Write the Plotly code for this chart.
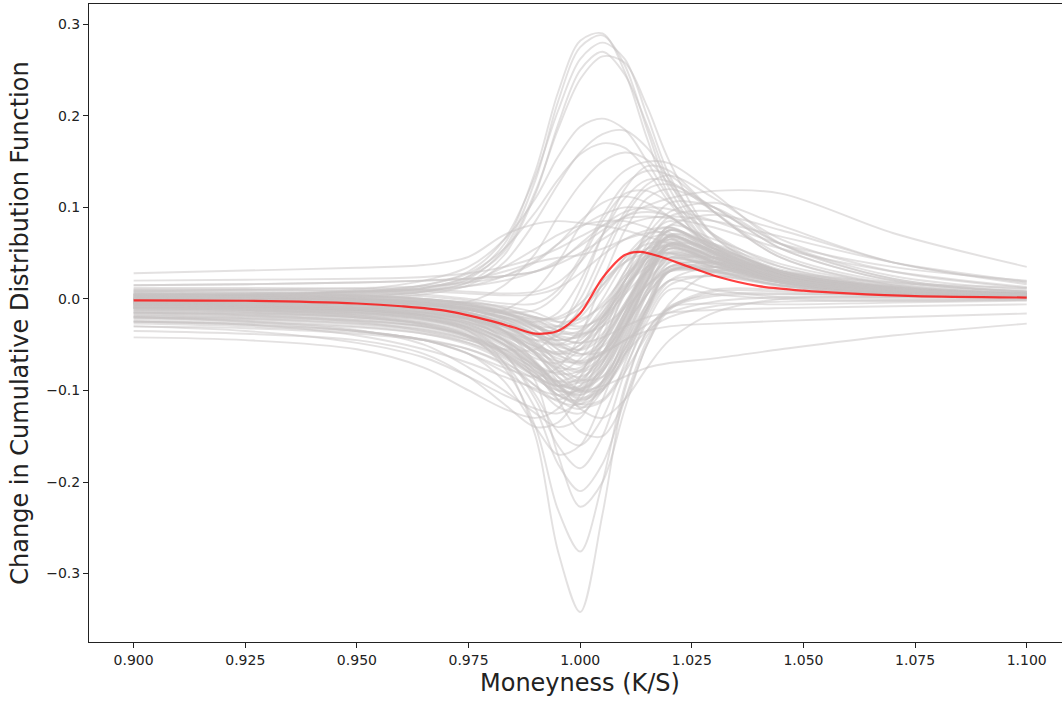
import plotly.graph_objects as go

# Strike grid (moneyness K/S) on which the individual curves are sampled
moneyness = [0.900, 0.925, 0.950, 0.965, 0.975, 0.983, 0.990, 0.995, 1.000,
             1.005, 1.010, 1.015, 1.020, 1.030, 1.045, 1.070, 1.100]

# Tall positive peaks
tall_peaks = [
    [0.000, 0.002, 0.006, 0.012, 0.025, 0.060, 0.140, 0.225, 0.282, 0.290, 0.248, 0.175, 0.112, 0.050, 0.020, 0.008, 0.003],
    [-0.002, 0.001, 0.005, 0.010, 0.022, 0.055, 0.130, 0.215, 0.275, 0.288, 0.255, 0.185, 0.120, 0.055, 0.022, 0.009, 0.004],
    [0.003, 0.005, 0.008, 0.015, 0.030, 0.065, 0.135, 0.205, 0.262, 0.280, 0.262, 0.200, 0.135, 0.060, 0.025, 0.010, 0.005],
    [-0.004, -0.002, 0.002, 0.008, 0.018, 0.048, 0.115, 0.190, 0.250, 0.270, 0.245, 0.190, 0.128, 0.058, 0.024, 0.010, 0.004],
    [0.001, 0.003, 0.007, 0.012, 0.024, 0.052, 0.118, 0.185, 0.240, 0.265, 0.258, 0.210, 0.150, 0.068, 0.028, 0.011, 0.005],
]

# Medium peaks
mid_peaks = [
    [0.000, 0.003, 0.010, 0.020, 0.035, 0.065, 0.110, 0.155, 0.188, 0.197, 0.185, 0.150, 0.110, 0.055, 0.022, 0.009, 0.004],
    [-0.005, -0.003, 0.000, 0.005, 0.015, 0.040, 0.085, 0.125, 0.160, 0.180, 0.184, 0.165, 0.130, 0.068, 0.028, 0.011, 0.005],
    [0.002, 0.004, 0.008, 0.015, 0.028, 0.055, 0.095, 0.130, 0.158, 0.170, 0.165, 0.140, 0.105, 0.052, 0.020, 0.008, 0.003],
    [-0.010, -0.010, -0.010, -0.008, -0.003, 0.015, 0.050, 0.090, 0.125, 0.150, 0.160, 0.152, 0.125, 0.070, 0.030, 0.012, 0.005],
    [-0.008, -0.010, -0.014, -0.018, -0.020, -0.012, 0.010, 0.040, 0.080, 0.115, 0.140, 0.150, 0.148, 0.115, 0.060, 0.022, 0.008],
    [0.005, 0.006, 0.008, 0.010, 0.014, 0.020, 0.030, 0.042, 0.058, 0.075, 0.090, 0.102, 0.110, 0.118, 0.115, 0.072, 0.035],
    [0.028, 0.031, 0.034, 0.037, 0.046, 0.070, 0.082, 0.085, 0.083, 0.080, 0.075, 0.068, 0.060, 0.045, 0.030, 0.018, 0.012],
]

# Peaks around 0.1-0.15
upper_band = [
    [0.010, 0.010, 0.008, 0.005, 0.000, -0.005, -0.005, 0.010, 0.045, 0.090, 0.125, 0.140, 0.135, 0.095, 0.045, 0.015, 0.006],
    [-0.015, -0.018, -0.025, -0.035, -0.045, -0.055, -0.055, -0.035, 0.010, 0.070, 0.120, 0.145, 0.140, 0.095, 0.045, 0.016, 0.006],
    [0.005, 0.004, 0.000, -0.005, -0.012, -0.020, -0.025, -0.015, 0.020, 0.070, 0.110, 0.130, 0.128, 0.095, 0.048, 0.018, 0.007],
    [-0.005, -0.006, -0.010, -0.015, -0.022, -0.035, -0.045, -0.040, -0.010, 0.040, 0.090, 0.120, 0.125, 0.100, 0.055, 0.020, 0.008],
    [0.000, 0.000, -0.002, -0.005, -0.010, -0.015, -0.012, 0.005, 0.040, 0.085, 0.115, 0.118, 0.105, 0.070, 0.035, 0.013, 0.005],
    [-0.020, -0.025, -0.035, -0.045, -0.060, -0.075, -0.085, -0.075, -0.040, 0.020, 0.075, 0.110, 0.120, 0.100, 0.055, 0.020, 0.008],
    [0.008, 0.010, 0.012, 0.014, 0.018, 0.025, 0.040, 0.060, 0.085, 0.105, 0.112, 0.105, 0.090, 0.060, 0.030, 0.012, 0.005],
    [-0.010, -0.012, -0.018, -0.028, -0.040, -0.060, -0.080, -0.090, -0.080, -0.040, 0.020, 0.075, 0.105, 0.100, 0.060, 0.022, 0.008],
    [0.000, -0.002, -0.006, -0.010, -0.018, -0.030, -0.040, -0.030, 0.000, 0.050, 0.095, 0.125, 0.135, 0.110, 0.065, 0.030, 0.012],
    [-0.003, -0.004, -0.006, -0.010, -0.015, -0.025, -0.040, -0.050, -0.045, -0.015, 0.030, 0.070, 0.095, 0.105, 0.080, 0.040, 0.018],
    [0.015, 0.016, 0.018, 0.020, 0.022, 0.025, 0.030, 0.040, 0.060, 0.080, 0.095, 0.100, 0.098, 0.085, 0.060, 0.035, 0.020],
    [-0.025, -0.028, -0.035, -0.045, -0.060, -0.080, -0.100, -0.110, -0.095, -0.050, 0.010, 0.060, 0.090, 0.095, 0.060, 0.025, 0.010],
]

# Main band of moderate curves
main_band = [
    [-0.002, -0.003, -0.006, -0.010, -0.018, -0.030, -0.045, -0.050, -0.035, 0.000, 0.040, 0.065, 0.070, 0.050, 0.024, 0.008, 0.003],
    [0.002, 0.001, -0.002, -0.006, -0.012, -0.022, -0.032, -0.035, -0.020, 0.010, 0.045, 0.070, 0.078, 0.055, 0.026, 0.010, 0.004],
    [-0.008, -0.010, -0.014, -0.020, -0.030, -0.045, -0.065, -0.070, -0.055, -0.020, 0.025, 0.055, 0.065, 0.045, 0.022, 0.008, 0.003],
    [-0.004, -0.005, -0.008, -0.012, -0.020, -0.032, -0.050, -0.060, -0.055, -0.030, 0.010, 0.045, 0.060, 0.045, 0.024, 0.009, 0.004],
    [0.004, 0.003, 0.000, -0.004, -0.010, -0.020, -0.030, -0.030, -0.015, 0.015, 0.045, 0.060, 0.062, 0.040, 0.018, 0.007, 0.003],
    [-0.012, -0.014, -0.020, -0.028, -0.040, -0.058, -0.075, -0.080, -0.065, -0.025, 0.020, 0.055, 0.075, 0.058, 0.030, 0.012, 0.005],
    [-0.001, -0.002, -0.004, -0.007, -0.012, -0.020, -0.030, -0.038, -0.035, -0.015, 0.020, 0.050, 0.065, 0.050, 0.026, 0.010, 0.004],
    [0.000, -0.001, -0.003, -0.006, -0.010, -0.016, -0.022, -0.020, -0.005, 0.020, 0.040, 0.050, 0.050, 0.032, 0.014, 0.005, 0.002],
    [-0.006, -0.007, -0.010, -0.015, -0.025, -0.040, -0.058, -0.068, -0.068, -0.045, -0.005, 0.035, 0.058, 0.048, 0.026, 0.010, 0.004],
    [-0.015, -0.017, -0.022, -0.030, -0.042, -0.060, -0.085, -0.095, -0.085, -0.045, 0.005, 0.045, 0.068, 0.052, 0.026, 0.010, 0.004],
    [0.006, 0.005, 0.003, 0.000, -0.005, -0.012, -0.020, -0.022, -0.010, 0.015, 0.040, 0.055, 0.058, 0.042, 0.024, 0.011, 0.006],
    [-0.003, -0.004, -0.006, -0.009, -0.015, -0.025, -0.038, -0.045, -0.040, -0.020, 0.012, 0.040, 0.055, 0.040, 0.020, 0.008, 0.003],
    [-0.020, -0.022, -0.028, -0.036, -0.048, -0.065, -0.085, -0.095, -0.090, -0.060, -0.015, 0.030, 0.060, 0.055, 0.032, 0.013, 0.005],
    [-0.030, -0.032, -0.038, -0.045, -0.055, -0.070, -0.088, -0.100, -0.100, -0.075, -0.030, 0.015, 0.045, 0.045, 0.030, 0.013, 0.006],
    [0.001, 0.000, -0.002, -0.004, -0.008, -0.014, -0.024, -0.030, -0.025, -0.005, 0.025, 0.048, 0.058, 0.040, 0.018, 0.007, 0.003],
    [-0.007, -0.008, -0.012, -0.018, -0.028, -0.044, -0.062, -0.075, -0.075, -0.050, -0.010, 0.030, 0.052, 0.040, 0.020, 0.008, 0.003],
    [0.010, 0.010, 0.009, 0.008, 0.006, 0.004, 0.005, 0.012, 0.028, 0.048, 0.065, 0.075, 0.078, 0.055, 0.028, 0.011, 0.005],
    [-0.009, -0.010, -0.013, -0.018, -0.026, -0.038, -0.052, -0.058, -0.050, -0.022, 0.015, 0.048, 0.068, 0.052, 0.028, 0.011, 0.005],
    [-0.002, -0.002, -0.004, -0.006, -0.010, -0.016, -0.026, -0.034, -0.038, -0.030, -0.010, 0.015, 0.035, 0.035, 0.022, 0.009, 0.004],
    [0.003, 0.002, 0.000, -0.003, -0.007, -0.013, -0.020, -0.025, -0.022, -0.008, 0.015, 0.035, 0.045, 0.035, 0.018, 0.007, 0.003],
    [-0.018, -0.020, -0.024, -0.030, -0.040, -0.055, -0.072, -0.082, -0.078, -0.050, -0.008, 0.032, 0.055, 0.042, 0.020, 0.008, 0.003],
    [0.012, 0.012, 0.011, 0.010, 0.008, 0.006, 0.008, 0.018, 0.040, 0.070, 0.090, 0.095, 0.090, 0.058, 0.028, 0.011, 0.005],
    [-0.005, -0.006, -0.009, -0.014, -0.022, -0.035, -0.052, -0.065, -0.070, -0.058, -0.030, 0.005, 0.030, 0.032, 0.022, 0.010, 0.005],
    [0.000, 0.000, -0.001, -0.002, -0.004, -0.008, -0.015, -0.025, -0.030, -0.020, 0.005, 0.030, 0.045, 0.036, 0.020, 0.008, 0.003],
    [-0.004, -0.004, -0.006, -0.010, -0.016, -0.026, -0.040, -0.052, -0.055, -0.038, -0.005, 0.030, 0.050, 0.040, 0.022, 0.009, 0.003],
]

# Further curves filling the dense core
dense_core = [
    [-0.010, -0.012, -0.016, -0.022, -0.032, -0.050, -0.080, -0.110, -0.120, -0.095, -0.040, 0.020, 0.060, 0.045, 0.022, 0.008, 0.003],
    [-0.006, -0.008, -0.012, -0.018, -0.028, -0.045, -0.070, -0.095, -0.110, -0.100, -0.060, -0.010, 0.035, 0.040, 0.025, 0.010, 0.004],
    [0.002, 0.001, -0.002, -0.006, -0.014, -0.028, -0.050, -0.075, -0.090, -0.070, -0.020, 0.035, 0.075, 0.055, 0.028, 0.010, 0.004],
    [-0.013, -0.015, -0.020, -0.027, -0.038, -0.055, -0.078, -0.098, -0.105, -0.080, -0.030, 0.025, 0.065, 0.052, 0.028, 0.011, 0.005],
    [-0.003, -0.004, -0.007, -0.012, -0.020, -0.035, -0.060, -0.085, -0.098, -0.075, -0.025, 0.030, 0.070, 0.060, 0.035, 0.014, 0.006],
    [-0.022, -0.024, -0.030, -0.038, -0.050, -0.068, -0.095, -0.118, -0.125, -0.100, -0.050, 0.005, 0.045, 0.035, 0.018, 0.007, 0.003],
    [0.005, 0.004, 0.002, -0.002, -0.008, -0.018, -0.035, -0.055, -0.070, -0.060, -0.025, 0.020, 0.055, 0.040, 0.020, 0.008, 0.003],
    [-0.008, -0.009, -0.012, -0.017, -0.026, -0.042, -0.068, -0.095, -0.115, -0.110, -0.075, -0.025, 0.010, 0.005, 0.000, -0.002, -0.001],
    [-0.016, -0.018, -0.023, -0.030, -0.040, -0.056, -0.078, -0.095, -0.095, -0.065, -0.015, 0.040, 0.080, 0.065, 0.038, 0.015, 0.006],
    [0.000, -0.001, -0.004, -0.008, -0.015, -0.028, -0.048, -0.068, -0.078, -0.062, -0.022, 0.028, 0.062, 0.045, 0.022, 0.009, 0.004],
    [-0.027, -0.030, -0.036, -0.044, -0.055, -0.072, -0.095, -0.112, -0.115, -0.090, -0.045, 0.005, 0.040, 0.030, 0.015, 0.006, 0.002],
    [0.007, 0.006, 0.004, 0.000, -0.005, -0.014, -0.028, -0.042, -0.048, -0.030, 0.005, 0.045, 0.075, 0.050, 0.022, 0.008, 0.003],
    [-0.005, -0.006, -0.009, -0.014, -0.022, -0.036, -0.058, -0.080, -0.092, -0.078, -0.040, 0.010, 0.048, 0.035, 0.018, 0.007, 0.003],
    [-0.011, -0.013, -0.017, -0.023, -0.033, -0.050, -0.075, -0.100, -0.118, -0.112, -0.080, -0.040, -0.010, -0.005, -0.006, -0.004, -0.002],
    [0.003, 0.002, 0.000, -0.003, -0.008, -0.016, -0.030, -0.046, -0.056, -0.042, -0.008, 0.035, 0.068, 0.050, 0.026, 0.010, 0.004],
    [-0.019, -0.021, -0.026, -0.033, -0.044, -0.060, -0.082, -0.100, -0.102, -0.078, -0.032, 0.020, 0.058, 0.042, 0.020, 0.008, 0.003],
    [-0.002, -0.003, -0.005, -0.009, -0.016, -0.030, -0.052, -0.078, -0.100, -0.098, -0.065, -0.015, 0.030, 0.030, 0.018, 0.008, 0.003],
    [0.009, 0.008, 0.006, 0.003, -0.002, -0.010, -0.022, -0.035, -0.040, -0.025, 0.008, 0.045, 0.070, 0.048, 0.022, 0.008, 0.003],
    [-0.007, -0.008, -0.011, -0.016, -0.024, -0.038, -0.060, -0.085, -0.102, -0.092, -0.055, -0.005, 0.040, 0.038, 0.022, 0.009, 0.004],
    [-0.014, -0.016, -0.020, -0.026, -0.036, -0.052, -0.074, -0.090, -0.088, -0.060, -0.015, 0.035, 0.070, 0.055, 0.030, 0.012, 0.005],
    [0.001, 0.000, -0.002, -0.005, -0.011, -0.022, -0.040, -0.060, -0.072, -0.058, -0.020, 0.030, 0.068, 0.052, 0.028, 0.011, 0.005],
    [-0.004, -0.005, -0.008, -0.013, -0.021, -0.034, -0.054, -0.072, -0.080, -0.066, -0.030, 0.018, 0.055, 0.040, 0.020, 0.008, 0.003],
    [-0.024, -0.026, -0.031, -0.038, -0.048, -0.063, -0.085, -0.105, -0.112, -0.095, -0.055, -0.010, 0.020, 0.010, 0.002, 0.000, 0.000],
    [0.004, 0.003, 0.001, -0.002, -0.007, -0.015, -0.028, -0.040, -0.042, -0.025, 0.010, 0.050, 0.078, 0.050, 0.022, 0.008, 0.003],
    [-0.009, -0.010, -0.014, -0.020, -0.030, -0.046, -0.070, -0.092, -0.100, -0.080, -0.035, 0.020, 0.060, 0.046, 0.024, 0.010, 0.004],
    [-0.001, -0.002, -0.004, -0.007, -0.012, -0.022, -0.038, -0.055, -0.062, -0.045, -0.008, 0.040, 0.075, 0.058, 0.030, 0.012, 0.005],
    [-0.017, -0.019, -0.024, -0.031, -0.042, -0.058, -0.082, -0.105, -0.115, -0.100, -0.060, -0.010, 0.032, 0.028, 0.015, 0.006, 0.002],
    [0.006, 0.005, 0.003, 0.000, -0.006, -0.015, -0.030, -0.048, -0.060, -0.052, -0.020, 0.025, 0.060, 0.045, 0.022, 0.008, 0.003],
    [-0.006, -0.007, -0.010, -0.015, -0.023, -0.037, -0.058, -0.078, -0.085, -0.068, -0.028, 0.022, 0.060, 0.044, 0.021, 0.008, 0.003],
    [-0.012, -0.014, -0.018, -0.024, -0.034, -0.050, -0.072, -0.092, -0.098, -0.085, -0.050, -0.005, 0.035, 0.030, 0.016, 0.006, 0.002],
    [0.004, 0.005, 0.008, 0.012, 0.020, 0.030, 0.040, 0.045, 0.048, 0.055, 0.065, 0.072, 0.072, 0.045, 0.020, 0.007, 0.003],
    [-0.003, -0.002, 0.002, 0.008, 0.018, 0.035, 0.055, 0.070, 0.080, 0.085, 0.085, 0.078, 0.068, 0.040, 0.018, 0.006, 0.002],
    [0.000, 0.001, 0.004, 0.008, 0.014, 0.025, 0.042, 0.060, 0.078, 0.092, 0.100, 0.098, 0.090, 0.055, 0.025, 0.009, 0.003],
    [-0.008, -0.009, -0.012, -0.016, -0.022, -0.030, -0.040, -0.045, -0.038, -0.010, 0.030, 0.065, 0.085, 0.060, 0.030, 0.011, 0.004],
    [-0.020, -0.022, -0.027, -0.034, -0.045, -0.062, -0.085, -0.105, -0.110, -0.090, -0.045, 0.010, 0.050, 0.038, 0.019, 0.007, 0.003],
    [-0.001, -0.001, -0.003, -0.006, -0.012, -0.024, -0.045, -0.070, -0.088, -0.085, -0.055, -0.010, 0.030, 0.035, 0.022, 0.010, 0.004],
    [0.002, 0.002, 0.001, -0.001, -0.004, -0.010, -0.020, -0.030, -0.032, -0.018, 0.012, 0.045, 0.068, 0.048, 0.022, 0.008, 0.003],
    [-0.010, -0.011, -0.015, -0.021, -0.031, -0.048, -0.072, -0.095, -0.108, -0.098, -0.062, -0.012, 0.032, 0.032, 0.018, 0.007, 0.003],
]

# Deep dips near the money
deep_dips = [
    [-0.005, -0.007, -0.012, -0.020, -0.035, -0.070, -0.150, -0.275, -0.342, -0.235, -0.100, -0.035, -0.010, 0.003, 0.005, 0.004, 0.002],
    [-0.010, -0.012, -0.018, -0.026, -0.040, -0.075, -0.140, -0.230, -0.276, -0.200, -0.095, -0.035, -0.008, 0.005, 0.006, 0.004, 0.002],
    [0.000, -0.002, -0.006, -0.012, -0.022, -0.045, -0.090, -0.170, -0.227, -0.200, -0.120, -0.050, -0.012, 0.008, 0.008, 0.004, 0.002],
    [-0.015, -0.016, -0.020, -0.028, -0.042, -0.070, -0.120, -0.180, -0.210, -0.180, -0.110, -0.045, -0.010, 0.010, 0.010, 0.005, 0.002],
    [-0.004, -0.006, -0.010, -0.018, -0.032, -0.060, -0.110, -0.160, -0.185, -0.150, -0.080, -0.020, 0.015, 0.025, 0.015, 0.006, 0.003],
    [-0.025, -0.028, -0.035, -0.045, -0.060, -0.090, -0.140, -0.170, -0.160, -0.110, -0.050, -0.005, 0.020, 0.025, 0.014, 0.006, 0.003],
    [-0.008, -0.010, -0.015, -0.022, -0.035, -0.060, -0.105, -0.145, -0.160, -0.130, -0.070, -0.015, 0.020, 0.035, 0.022, 0.009, 0.004],
    [0.005, 0.004, 0.000, -0.006, -0.015, -0.035, -0.070, -0.110, -0.145, -0.150, -0.110, -0.050, -0.005, 0.030, 0.025, 0.010, 0.004],
    [-0.035, -0.038, -0.045, -0.060, -0.085, -0.115, -0.140, -0.135, -0.105, -0.060, -0.015, 0.015, 0.030, 0.030, 0.018, 0.007, 0.003],
    [-0.002, -0.003, -0.006, -0.010, -0.018, -0.035, -0.060, -0.090, -0.120, -0.130, -0.110, -0.075, -0.045, -0.015, 0.000, 0.002, 0.001],
]

# Broad dips on the left
left_dips = [
    [-0.042, -0.045, -0.055, -0.075, -0.100, -0.120, -0.130, -0.120, -0.085, -0.030, 0.020, 0.045, 0.050, 0.038, 0.020, 0.008, 0.003],
    [-0.030, -0.035, -0.048, -0.064, -0.085, -0.105, -0.120, -0.125, -0.110, -0.070, -0.020, 0.020, 0.042, 0.045, 0.028, 0.010, 0.004],
    [-0.025, -0.028, -0.040, -0.055, -0.070, -0.085, -0.098, -0.105, -0.098, -0.070, -0.030, 0.005, 0.030, 0.040, 0.028, 0.011, 0.004],
    [-0.020, -0.024, -0.034, -0.050, -0.075, -0.100, -0.125, -0.140, -0.130, -0.090, -0.035, 0.010, 0.035, 0.040, 0.022, 0.008, 0.003],
]

# Curves staying negative on the right
right_negative = [
    [-0.005, -0.008, -0.012, -0.018, -0.028, -0.045, -0.070, -0.090, -0.100, -0.095, -0.085, -0.075, -0.070, -0.065, -0.055, -0.040, -0.027],
    [0.000, -0.002, -0.005, -0.010, -0.018, -0.030, -0.048, -0.062, -0.068, -0.060, -0.045, -0.035, -0.030, -0.027, -0.024, -0.020, -0.016],
    [0.008, 0.007, 0.004, 0.000, -0.006, -0.016, -0.030, -0.042, -0.048, -0.042, -0.030, -0.020, -0.015, -0.012, -0.010, -0.008, -0.006],
    [-0.010, -0.012, -0.016, -0.022, -0.032, -0.050, -0.075, -0.095, -0.105, -0.090, -0.060, -0.035, -0.020, -0.008, -0.003, -0.002, -0.001],
    [0.004, 0.003, 0.000, -0.004, -0.010, -0.020, -0.035, -0.050, -0.060, -0.058, -0.045, -0.028, -0.015, -0.003, 0.002, 0.002, 0.001],
]

# Curves with long positive right tails
right_tails = [
    [0.015, 0.016, 0.018, 0.020, 0.022, 0.025, 0.030, 0.038, 0.050, 0.065, 0.080, 0.088, 0.090, 0.085, 0.068, 0.040, 0.019],
    [0.020, 0.021, 0.022, 0.024, 0.028, 0.035, 0.045, 0.055, 0.068, 0.080, 0.088, 0.090, 0.088, 0.078, 0.055, 0.030, 0.013],
    [-0.006, -0.008, -0.012, -0.018, -0.026, -0.040, -0.055, -0.060, -0.050, -0.020, 0.020, 0.055, 0.080, 0.092, 0.075, 0.040, 0.016],
]

# Average curve (red)
mean_x = [0.900, 0.925, 0.950, 0.960, 0.970, 0.980, 0.985, 0.990, 0.995, 1.000, 1.005,
          1.010, 1.0135, 1.018, 1.025, 1.031, 1.040, 1.050, 1.060, 1.075, 1.100]
mean_y = [-0.0015, -0.002, -0.005, -0.008, -0.013, -0.024, -0.031, -0.038, -0.035, -0.016, 0.023,
          0.048, 0.0515, 0.046, 0.034, 0.024, 0.014, 0.009, 0.006, 0.003, 0.0015]

x_ticks = [0.900, 0.925, 0.950, 0.975, 1.000, 1.025, 1.050, 1.075, 1.100]
y_ticks = [-0.3, -0.2, -0.1, 0.0, 0.1, 0.2, 0.3]

families = [left_dips, right_negative, deep_dips, main_band, dense_core, upper_band,
            right_tails, mid_peaks, tall_peaks]

fig = go.Figure()
for fam in families:
    for series in fam:
        fig.add_trace(go.Scatter(
            x=moneyness, y=series, mode="lines",
            line=dict(color="rgba(200,196,196,0.5)", width=1.9, shape="spline", smoothing=0.9),
            hoverinfo="skip", showlegend=False))

fig.add_trace(go.Scatter(
    x=mean_x, y=mean_y, mode="lines",
    line=dict(color="rgba(255,0,0,0.75)", width=2.2, shape="spline", smoothing=0.8),
    showlegend=False))

FONT = "DejaVu Sans"
TXT = "#222222"
fig.update_layout(
    width=1062, height=702,
    margin=dict(l=89, r=0, t=4, b=60),
    paper_bgcolor="white", plot_bgcolor="white",
    font=dict(family=FONT, color=TXT, size=14),
    showlegend=False,
    annotations=[dict(
        text="Moneyness (K/S)", xref="paper", yref="paper",
        x=0.5046, y=-0.064, xanchor="center", yanchor="middle",
        showarrow=False, font=dict(size=24, family=FONT, color=TXT))],
)
fig.update_xaxes(
    range=[0.89, 1.1079],
    tickvals=x_ticks, ticktext=[f"{v:.3f}" for v in x_ticks],
    ticks="outside", ticklen=5, tickwidth=1, tickcolor=TXT,
    showline=True, linecolor=TXT, linewidth=1, mirror=True,
    showgrid=False, zeroline=False,
    tickfont=dict(size=14, family=FONT, color=TXT),
)
fig.update_yaxes(
    range=[-0.3748, 0.3222],
    tickvals=y_ticks, ticktext=[f"{v:.1f}".replace("-", "\u2212") for v in y_ticks],
    ticks="outside", ticklen=5, tickwidth=1, tickcolor=TXT,
    showline=True, linecolor=TXT, linewidth=1, mirror=False,
    showgrid=False, zeroline=False,
    tickfont=dict(size=14, family=FONT, color=TXT),
    title=dict(text="Change in Cumulative Distribution Function", font=dict(size=24, family=FONT, color=TXT), standoff=10),
)

fig.write_html("out.html")
